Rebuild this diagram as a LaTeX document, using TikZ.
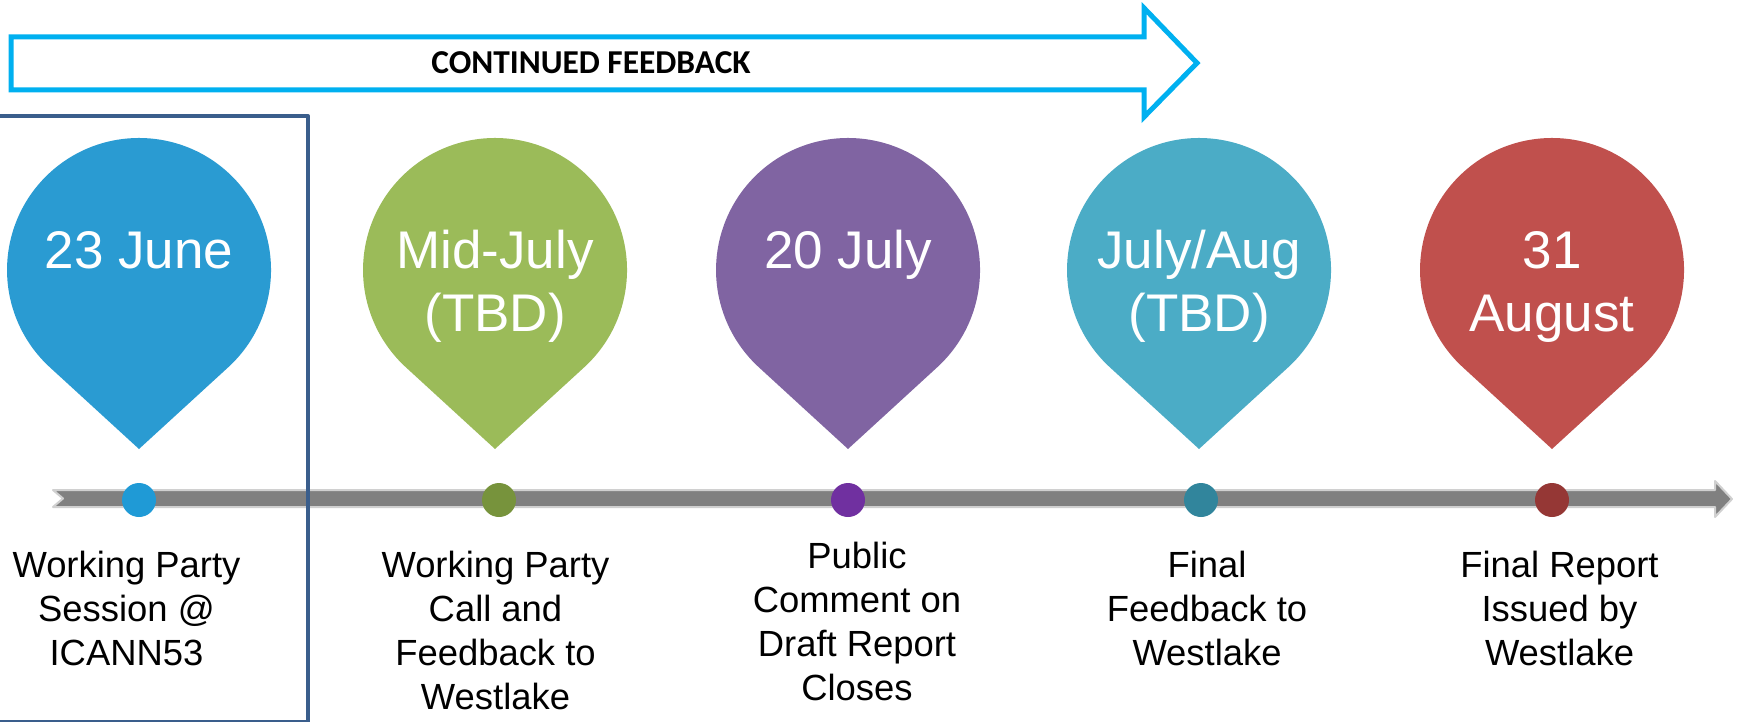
\documentclass[tikz,border=0pt]{standalone}
\usepackage{fontspec}
\setmainfont{Liberation Sans}
\newfontfamily\headfont{Carlito}
\definecolor{feedblue}{HTML}{00B0F0}
\definecolor{boxblue}{HTML}{3A5E8C}
\definecolor{linegray}{HTML}{808080}
\definecolor{lineedge}{HTML}{D0D0D0}
\definecolor{pinA}{HTML}{2A9BD2}
\definecolor{pinB}{HTML}{9BBB59}
\definecolor{pinC}{HTML}{8064A2}
\definecolor{pinD}{HTML}{4BACC6}
\definecolor{pinE}{HTML}{C0504D}
\definecolor{dotA}{HTML}{1F9AD6}
\definecolor{dotB}{HTML}{77933C}
\definecolor{dotC}{HTML}{7030A0}
\definecolor{dotD}{HTML}{31859C}
\definecolor{dotE}{HTML}{953735}
\begin{document}
\begin{tikzpicture}[x=0.5pt, y=0.5pt, line join=round,
  date/.style={text=white, font=\fontsize{26.5}{31.5}\selectfont, align=center, anchor=north, inner sep=0},
  desc/.style={font=\fontsize{18.2}{22}\selectfont, align=center, anchor=north, inner sep=0},
  dot/.style={circle, inner sep=0, minimum size=17pt}]
\useasboundingbox (0,0) rectangle (1739,-722);
% timeline
\filldraw[fill=linegray, draw=lineedge, line width=1pt] (53,-490) -- (1715,-490) -- (1715,-481) -- (1732,-499) -- (1715,-517) -- (1715,-507) -- (53,-507) -- (63,-498.5) -- cycle;
% first event frame
\draw[boxblue, line width=2pt] (-10,-116) -- (308,-116) -- (308,-722) -- (-10,-722);
% feedback arrow
\draw[feedblue, line width=2.5pt, line join=miter] (11,-37) -- (1144,-37) -- (1144,-8) -- (1197,-63) -- (1144,-117) -- (1144,-90) -- (11,-90) -- cycle;
\node[font=\headfont\bfseries\fontsize{16.7}{20}\selectfont] (feed) at (591,-63) {CONTINUED FEEDBACK};
% pins
\fill[pinA] (139,-449) -- ++(89.2,81.7) arc[start angle=-47.5, end angle=227.5, radius=132] -- cycle;
\fill[pinB] (495,-449) -- ++(89.2,81.7) arc[start angle=-47.5, end angle=227.5, radius=132] -- cycle;
\fill[pinC] (848,-449) -- ++(89.2,81.7) arc[start angle=-47.5, end angle=227.5, radius=132] -- cycle;
\fill[pinD] (1199,-449) -- ++(89.2,81.7) arc[start angle=-47.5, end angle=227.5, radius=132] -- cycle;
\fill[pinE] (1552,-449) -- ++(89.2,81.7) arc[start angle=-47.5, end angle=227.5, radius=132] -- cycle;
\node[date] (date1) at (139,-224) {\strut 23 June};
\node[date] (date2) at (495,-224) {\strut Mid-July\\(TBD)};
\node[date] (date3) at (848,-224) {\strut 20 July};
\node[date] (date4) at (1199,-224) {\strut July/Aug\\(TBD)};
\node[date] (date5) at (1552,-224) {\strut 31\\August};
% dots on the line
\node[dot, fill=dotA] (dot1) at (139,-500) {};
\node[dot, fill=dotB] (dot2) at (499,-500) {};
\node[dot, fill=dotC] (dot3) at (848,-500) {};
\node[dot, fill=dotD] (dot4) at (1201,-500) {};
\node[dot, fill=dotE] (dot5) at (1552,-500) {};
% descriptions
\node[desc] (desc1) at (126.5,-546) {\strut Working Party\\Session @\\ICANN53};
\node[desc] (desc2) at (495.5,-546) {\strut Working Party\\Call and\\Feedback to\\Westlake};
\node[desc] (desc3) at (857,-537) {\strut Public\\Comment on\\Draft Report\\Closes};
\node[desc] (desc4) at (1207,-546) {\strut Final\\Feedback to\\Westlake};
\node[desc] (desc5) at (1559.5,-546) {\strut Final Report\\Issued by\\Westlake};
\end{tikzpicture}
\end{document}
